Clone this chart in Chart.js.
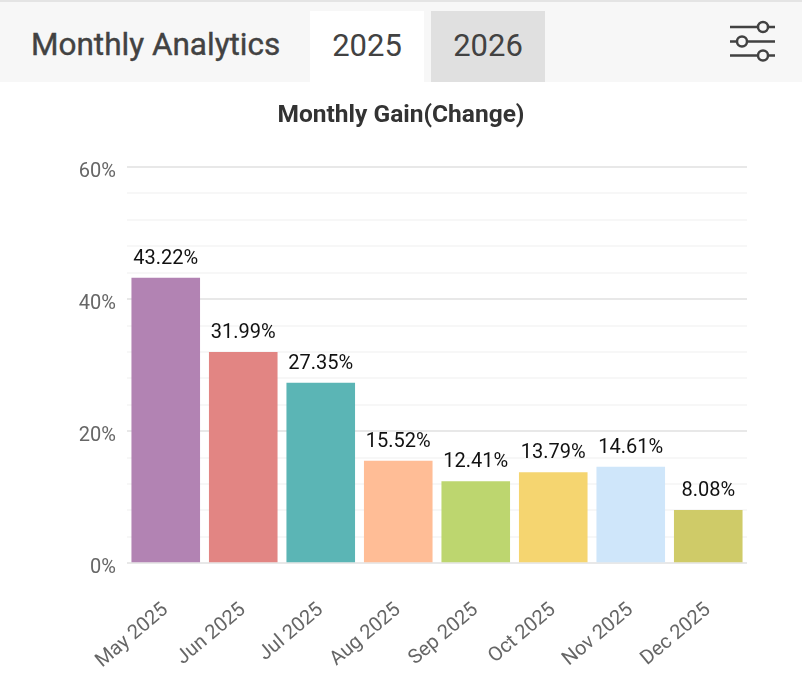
<!DOCTYPE html>
<html>
<head>
<meta charset="utf-8">
<title>Monthly Analytics</title>
<script src="https://cdn.jsdelivr.net/npm/chart.js@4"></script>
<style>
  html, body { margin: 0; padding: 0; background: #fff; font-family: Roboto, sans-serif; }
  #page { position: relative; width: 802px; height: 700px; overflow: hidden; }
  #topline { position: absolute; left: 0; top: 0; width: 802px; height: 2px; background: #e4e4e4; }
  #header { position: absolute; left: 0; top: 2px; width: 802px; height: 80px; background: #f7f7f7; }
  .heading { position: absolute; left: 31px; top: 23px; font-size: 31.5px; line-height: 40px; font-weight: 400; color: #424242; white-space: nowrap; -webkit-text-stroke: 0.4px #424242; }
  .tab { position: absolute; top: 9px; width: 114px; height: 71px; line-height: 70px; text-align: center; font-size: 31px; color: #424242; }
  .tab.on { left: 310px; background: #fff; }
  .tab.off { left: 431px; background: #e0e0e0; }
  #filter { position: absolute; left: 728px; top: 17px; }
  #chart-title { position: absolute; left: 0; top: 99px; width: 802px; text-align: center; font-size: 24.5px; line-height: 30px; font-weight: 700; color: #333; }
  #wrap { position: absolute; left: 0; top: 82px; width: 802px; height: 618px; }
</style>
</head>
<body>
<div id="page">
  <div id="topline"></div>
  <div id="header">
    <div class="heading">Monthly Analytics</div>
    <div class="tab on">2025</div>
    <div class="tab off">2026</div>
    <svg id="filter" width="50" height="44" viewBox="0 0 50 44" fill="none" stroke="#424242" stroke-width="2.5">
      <path d="M2 8H30M40 8H47M2 22.5H9M19 22.5H47M2 36.5H30M40 36.5H47"/>
      <circle cx="35" cy="8" r="5"/>
      <circle cx="14" cy="22.5" r="5"/>
      <circle cx="35" cy="36.5" r="5"/>
    </svg>
  </div>
  <div id="wrap"><canvas id="chart-gain"></canvas></div>
  <div id="chart-title">Monthly Gain(Change)</div>
</div>
<script>
const months = ['May 2025', 'Jun 2025', 'Jul 2025', 'Aug 2025', 'Sep 2025', 'Oct 2025', 'Nov 2025', 'Dec 2025'];
const gains = [43.22, 31.99, 27.35, 15.52, 12.41, 13.79, 14.61, 8.08];
const barColors = ['#b283b3', '#e28583', '#5bb5b5', '#ffbd96', '#bdd66f', '#f5d570', '#cfe6fa', '#cfcb68'];

// Value labels above the bars
const barLabels = {
  id: 'barLabels',
  afterDatasetsDraw(chart) {
    const ctx = chart.ctx;
    ctx.save();
    ctx.font = '20px Roboto';
    ctx.fillStyle = '#111';
    ctx.textAlign = 'center';
    ctx.textBaseline = 'bottom';
    chart.getDatasetMeta(0).data.forEach((bar, i) => {
      ctx.fillText(gains[i].toFixed(2) + '%', bar.x, bar.y - 9);
    });
    ctx.restore();
  }
};

new Chart(document.getElementById('chart-gain'), {
  type: 'bar',
  data: {
    labels: months,
    datasets: [{
      data: gains,
      backgroundColor: barColors,
      barPercentage: 0.885,
      categoryPercentage: 1
    }]
  },
  options: {
    responsive: true,
    maintainAspectRatio: false,
    animation: false,
    layout: { padding: { left: 0, right: 55, top: 85, bottom: 0 } },
    plugins: {
      legend: { display: false },
      tooltip: { enabled: false }
    },
    scales: {
      x: {
        grid: { display: false },
        border: { display: false },
        ticks: {
          color: '#666',
          font: { family: 'Roboto', size: 20 },
          autoSkip: false,
          minRotation: 40,
          maxRotation: 40,
          padding: 27
        }
      },
      y: {
        min: 0,
        max: 60,
        afterFit(scale) { scale.width = 127; },
        border: { display: false },
        grid: {
          drawTicks: false,
          lineWidth: 2,
          color: ctx => (ctx.tick.value % 20 === 0 ? '#e8e8e8' : '#f7f7f7')
        },
        ticks: {
          stepSize: 4,
          autoSkip: false,
          color: '#666',
          font: { family: 'Roboto', size: 20 },
          padding: 11,
          labelOffset: 5,
          callback: v => (v % 20 === 0 ? v + '%' : '')
        }
      }
    }
  },
  plugins: [barLabels]
});
</script>
</body>
</html>
